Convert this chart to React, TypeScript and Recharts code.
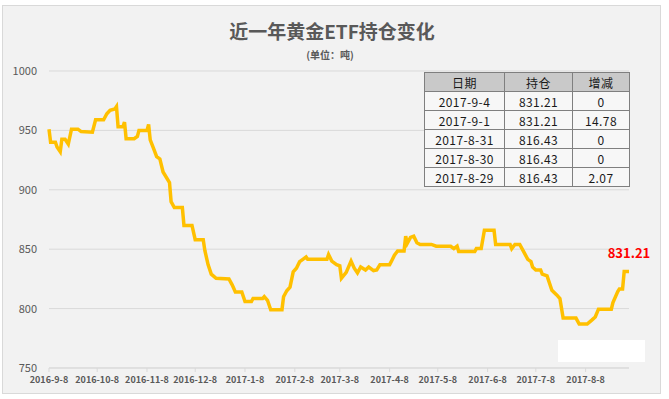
import React from 'react'
import { LineChart, Line, XAxis, YAxis, CartesianGrid } from 'recharts'

// 持仓（吨），按日期读取
const dates = [
  '2016-9-8', '2016-9-9', '2016-9-12', '2016-9-13', '2016-9-15', '2016-9-16', '2016-9-18', '2016-9-20',
  '2016-9-22', '2016-9-26', '2016-9-28', '2016-10-5', '2016-10-7', '2016-10-12', '2016-10-14', '2016-10-16',
  '2016-10-19', '2016-10-20', '2016-10-21', '2016-10-24', '2016-10-25', '2016-10-26', '2016-10-31', '2016-11-2',
  '2016-11-3', '2016-11-8', '2016-11-9', '2016-11-10', '2016-11-12', '2016-11-14', '2016-11-16', '2016-11-18',
  '2016-11-22', '2016-11-23', '2016-11-25', '2016-11-30', '2016-12-1', '2016-12-6', '2016-12-8', '2016-12-13',
  '2016-12-14', '2016-12-16', '2016-12-18', '2016-12-21', '2016-12-29', '2016-12-31', '2017-1-2', '2017-1-6',
  '2017-1-8', '2017-1-12', '2017-1-13', '2017-1-19', '2017-1-20', '2017-1-22', '2017-1-24', '2017-1-31',
  '2017-2-1', '2017-2-3', '2017-2-5', '2017-2-7', '2017-2-9', '2017-2-11', '2017-2-13', '2017-2-15',
  '2017-2-16', '2017-2-28', '2017-3-1', '2017-3-3', '2017-3-6', '2017-3-8', '2017-3-9', '2017-3-12',
  '2017-3-15', '2017-3-17', '2017-3-19', '2017-3-21', '2017-3-24', '2017-3-26', '2017-3-29', '2017-3-31',
  '2017-4-2', '2017-4-8', '2017-4-9', '2017-4-11', '2017-4-13', '2017-4-17', '2017-4-18', '2017-4-19',
  '2017-4-21', '2017-4-23', '2017-4-25', '2017-4-27', '2017-5-4', '2017-5-7', '2017-5-16', '2017-5-18',
  '2017-5-20', '2017-5-21', '2017-5-31', '2017-6-1', '2017-6-4', '2017-6-6', '2017-6-12', '2017-6-13',
  '2017-6-22', '2017-6-23', '2017-6-25', '2017-6-28', '2017-6-30', '2017-7-3', '2017-7-5', '2017-7-6',
  '2017-7-8', '2017-7-11', '2017-7-12', '2017-7-15', '2017-7-18', '2017-7-21', '2017-7-23', '2017-7-25',
  '2017-8-2', '2017-8-4', '2017-8-9', '2017-8-12', '2017-8-14', '2017-8-16', '2017-8-24', '2017-8-25',
  '2017-8-28', '2017-8-29', '2017-8-30', '2017-8-31', '2017-9-1', '2017-9-4',
]

const holdings = [
  951, 940, 940, 936, 932, 942.5, 942.5, 938.5,
  951, 951, 949, 948.5, 959, 959, 964, 967,
  968, 970, 953, 953, 957, 943, 943, 945,
  950, 950, 955, 942, 935, 928, 926, 915,
  906, 890, 885, 885, 870, 870, 858, 858,
  849, 837, 829, 825.5, 825, 820, 814, 814,
  806, 806, 808.5, 808.5, 810, 807, 799, 799,
  810, 815, 818, 831, 834, 839.5, 841.5, 843.5,
  841.5, 841.5, 845.5, 840, 837, 836, 825.5, 830.5,
  840, 834, 830, 835, 832.5, 835, 832, 832.5,
  837, 837, 839.5, 845, 848.5, 848.5, 861, 855,
  860, 861, 855.5, 854, 854, 852.5, 852.5, 850.5,
  852.5, 848, 848, 850.5, 850.5, 866, 866, 854,
  854, 850.5, 854, 854, 849, 841.5, 839.5, 835,
  832.5, 832.5, 829, 827.5, 815.5, 811.5, 808.5, 792,
  792, 787, 787, 790.5, 793, 799.5, 799.5, 805,
  814.36, 816.43, 816.43, 816.43, 831.21, 831.21,
]

const xTicks = [
  '2016-9-8', '2016-10-8', '2016-11-8', '2016-12-8', '2017-1-8', '2017-2-8',
  '2017-3-8', '2017-4-8', '2017-5-8', '2017-6-8', '2017-7-8', '2017-8-8',
]
const yTicks = [750, 800, 850, 900, 950, 1000]

const tableDates = ['2017-9-4', '2017-9-1', '2017-8-31', '2017-8-30', '2017-8-29']
const tableHoldings = ['831.21', '831.21', '816.43', '816.43', '816.43']
const tableChanges = ['0', '14.78', '0', '0', '2.07']

const toTs = (s: string) => {
  const [y, m, d] = s.split('-').map(Number)
  return Date.UTC(y, m - 1, d)
}
const fmtDate = (ts: number) => {
  const d = new Date(ts)
  return `${d.getUTCFullYear()}-${d.getUTCMonth() + 1}-${d.getUTCDate()}`
}

const data = dates.map((d, i) => ({ t: toTs(d), value: holdings[i] }))
const last = data.length - 1

const grey = '#595959'
const font = '"Noto Sans CJK SC", "Noto Sans", sans-serif'

const cell: React.CSSProperties = {
  border: '1px solid #7f7f7f',
  height: 18,
  padding: 0,
  textAlign: 'center',
  letterSpacing: 0.4,
}

const EndLabel = (props: any) => {
  if (props.index !== last) return null
  return (
    <text x={props.x} y={props.y - 17} textAnchor="middle" dominantBaseline="middle"
      fill="#ff0000" fontSize={13} fontWeight="bold" fontFamily={font}>
      {props.value}
    </text>
  )
}

const App = () => (
  <div style={{ position: 'relative', width: 669, height: 399, background: '#fff', fontFamily: font }}>
    <style>{'body{margin:0}'}</style>
    <div style={{ position: 'absolute', left: 2, top: 5, width: 657, height: 387, background: '#f2f2f2', border: '1px solid #d9d9d9' }} />
    <div style={{ position: 'absolute', left: 0, top: 17, width: 664, textAlign: 'center', fontSize: 19, fontWeight: 'bold', color: grey }}>
      近一年黄金ETF持仓变化
    </div>
    <div style={{ position: 'absolute', left: 0, top: 47, width: 660, textAlign: 'center', fontSize: 10, fontWeight: 'bold', color: grey }}>
      (单位：吨)
    </div>
    <div style={{ position: 'absolute', left: 0, top: 0 }}>
      <LineChart width={669} height={399} data={data} margin={{ top: 71, right: 40, bottom: 0, left: 9 }}>
        <CartesianGrid vertical={false} stroke="#d9d9d9" />
        <XAxis
          dataKey="t"
          type="number"
          scale="time"
          height={31}
          domain={[toTs('2016-9-8'), toTs('2017-9-4')]}
          ticks={xTicks.map(toTs)}
          tickFormatter={fmtDate}
          stroke="#d9d9d9"
          tickSize={4}
          tickMargin={5}
          tick={{ fill: grey, fontSize: 9, fontWeight: 'bold', fontFamily: font }}
        />
        <YAxis
          domain={[750, 1000]}
          ticks={yTicks}
          width={40}
          axisLine={false}
          tickLine={false}
          tickSize={0}
          tickMargin={12}
          tick={{ fill: grey, fontSize: 11, fontFamily: font }}
        />
        <Line
          type="linear"
          dataKey="value"
          stroke="#ffc000"
          strokeWidth={3.5}
          dot={false}
          isAnimationActive={false}
          label={EndLabel}
        />
      </LineChart>
    </div>
    <table style={{ position: 'absolute', left: 424, top: 72, borderCollapse: 'collapse', fontSize: 12, color: '#1a1a1a', background: '#f7f7f7' }}>
      <thead>
        <tr style={{ background: '#c9c9c9' }}>
          <th style={{ ...cell, width: 79, fontWeight: 'normal' }}>日期</th>
          <th style={{ ...cell, width: 67, fontWeight: 'normal' }}>持仓</th>
          <th style={{ ...cell, width: 56, fontWeight: 'normal' }}>增减</th>
        </tr>
      </thead>
      <tbody>
        {tableDates.map((d, i) => (
          <tr key={d}>
            <td style={cell}>{d}</td>
            <td style={cell}>{tableHoldings[i]}</td>
            <td style={cell}>{tableChanges[i]}</td>
          </tr>
        ))}
      </tbody>
    </table>
    <div style={{ position: 'absolute', left: 558, top: 340, width: 87, height: 22, background: '#fff' }} />
  </div>
)

export default App
